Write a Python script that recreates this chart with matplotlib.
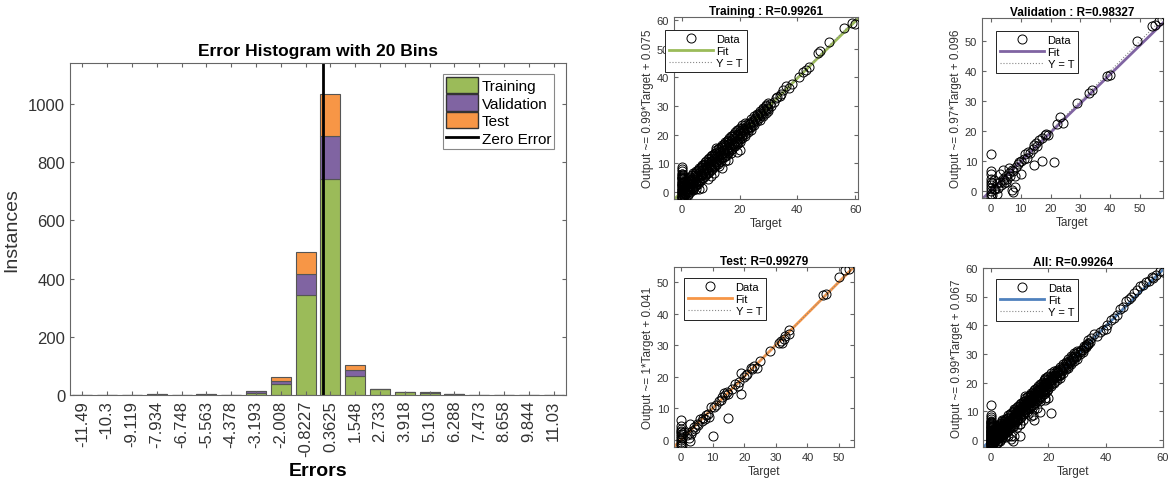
import matplotlib
matplotlib.use('Agg')
import matplotlib.pyplot as plt
import numpy as np
from matplotlib.patches import Patch
from matplotlib.lines import Line2D

plt.rcParams['font.family'] = ['Liberation Sans', 'DejaVu Sans']

# ---- error histogram data ----
bin_labels = ['-11.49', '-10.3', '-9.119', '-7.934', '-6.748', '-5.563', '-4.378',
              '-3.193', '-2.008', '-0.8227', '0.3625', '1.548', '2.733', '3.918',
              '5.103', '6.288', '7.473', '8.658', '9.844', '11.03']
train_counts = [0, 0, 0, 1, 0, 1, 0, 8, 38, 343, 741, 64, 19, 9, 7, 2, 0, 0, 0, 0]
val_counts = [0, 0, 0, 1, 0, 1, 0, 6, 10, 71, 147, 21, 2, 1, 2, 1, 0, 0, 0, 0]
test_counts = [0, 0, 0, 0, 0, 0, 0, 1, 14, 76, 146, 19, 1, 1, 1, 0, 0, 0, 0, 0]

# ---- regression data (target, output) ----
train_target = [0, 0, 0, 0, 0, 0, 0, 0, 0, 0, 0, 0, 0, 0, 0, 0, 0, 0.2, 0.2, 0.2, 0.2, 0.3, 0.3, 0.4, 0.4,
                0.1, 0.1, 0.1, 0.1, 0.1, 0.1, 0.1, 0.1, 0.1, 0.1, 0.6, 0.6, 0.6, 0.6, 0.6, 0.6,
                0.8, 1, 1.2, 1.5, 1.8, 2, 2.2, 2.5, 2.8, 3, 3.2, 3.5, 3.8, 4, 4.2, 4.5, 1, 1.5, 2, 2.5, 3, 3.5, 4, 4.5, 5, 1.2, 2.4, 3.6, 4.8,
                1.4, 2.1, 2.7, 3.3, 3.9, 4.4, 1.7, 2.3, 2.9, 3.4, 0.9, 4.9,
                5, 6, 7, 8, 9, 10, 11, 12, 13, 14, 15, 16, 17, 18, 19, 20, 21, 22, 23, 24, 25, 26, 27, 28, 29, 30,
                5.5, 6.5, 7.5, 8.5, 9.5, 10.5, 11.5, 12.5, 13.5, 14.5, 15.5, 16.5, 17.5, 18.5, 19.5, 20.5, 21.5, 22.5, 23.5, 24.5, 25.5, 26.5, 27.5, 28.5, 29.5,
                5, 6, 7, 8, 9, 10, 11, 12, 13, 14, 15, 16, 17, 18, 19, 20, 21, 22, 23, 24, 25, 26, 27, 28, 29, 30,
                5.5, 6.5, 7.5, 8.5, 9.5, 10.5, 11.5, 12.5, 13.5, 14.5, 15.5, 16.5, 17.5, 18.5, 19.5,
                3.5, 4.5, 5.5, 6.5, 7.5, 8.5, 9.5, 10.5, 11.5, 12.5, 13.5, 14.5, 15.5, 16.5, 17.5, 18.5, 19.5,
                5.2, 6.2, 7.2, 8.2, 9.2, 10.2, 11.2, 12.2, 13.2, 14.2, 15.2, 16.2, 17.2, 18.2, 19.2, 20.2, 21.2, 22.2, 23.2, 24.2, 25.2, 26.2, 27.2, 28.2, 29.2,
                5.7, 6.7, 7.7, 8.7, 9.7, 10.7, 11.7, 12.7, 13.7, 14.7, 15.7, 16.7, 17.7, 18.7, 19.7, 20.7, 21.7, 22.7, 23.7, 24.7, 25.7, 26.7, 27.7, 28.7, 29.7,
                4, 5, 6, 7, 8, 9, 10, 11, 12, 13, 14, 15, 16, 17, 18, 19, 20, 21, 22, 23, 24,
                2, 3, 4, 5, 6, 7, 8, 9, 10, 11, 12, 13, 14, 15, 16, 17, 18, 19, 20, 21, 22,
                6, 7, 9, 10, 11, 12, 13, 14, 16, 17, 20, 19, 15,
                31, 32, 33, 34, 34.5, 35, 36, 37, 38, 40.5, 42, 43, 44, 47, 48, 51, 56, 59, 60, 30.5, 32.5]
train_output = [-2.2, -1.6, -1, -0.4, 0.2, 0.8, 1.4, 2, 2.6, 3.2, 4, 4.8, 5.6, 6.4, 7.2, 8, 8.8, -1.8, 0.5, 2.8, 5, -0.8, 3.6, 1.2, 6,
                -2, -1.2, -0.3, 0.6, 1.6, 2.4, 3.4, 4.4, 5.2, 6.2, -1.2, 0, 1.2, 2.4, 3.6, 4.8,
                -1.5, 0.5, 2.5, -0.5, 1.5, 3.5, -1, 2, 4, 0, 2.8, 4.6, 1, 3.2, 5.2, 2, -0.8, 4.2, 0.2, 5, 1.8, 3, 0.6, 6, 4, -0.2, 1, 1.6, 2.6,
                1.2, 2.8, 2.4, 3.8, 3.1, 4.5, 3.0, -0.5, 0.8, 1.4, 1.6, 1.1,
                6.5, 7.8, 8.6, 9.9, 10.4, 11.8, 12.5, 13.6, 14.3, 15.7, 16.4, 17.5, 18.3, 19.6, 20.2, 21.4, 22.3, 23.5, 24.1, 25.3, 26.4, 27.2, 28.3, 29.4, 30.2, 31.1,
                5.7, 6.3, 7.9, 8.4, 9.6, 10.8, 11.3, 12.7, 13.4, 14.6, 15.5, 16.8, 17.2, 18.6, 19.4, 20.5, 21.7, 22.3, 23.6, 24.4, 25.5, 26.6, 27.3, 28.7, 29.4,
                3.6, 4.2, 5.8, 6.3, 7.4, 8.7, 9.2, 10.5, 11.6, 12.3, 13.5, 14.6, 15.2, 16.6, 17.4, 18.5, 19.6, 20.3, 21.5, 22.6, 23.4, 24.6, 25.2, 26.6, 27.5, 28.4,
                2.8, 4.1, 5.0, 6.2, 6.9, 8.0, 9.1, 9.8, 11.0, 12.1, 12.8, 14.2, 15.0, 15.9, 17.2,
                5.8, 6.6, 7.7, 8.9, 9.6, 10.8, 11.9, 12.8, 13.6, 14.9, 15.8, 16.7, 17.9, 18.8, 19.6, 20.9, 21.8,
                5.9, 7.0, 7.7, 8.9, 9.7, 11.0, 11.7, 12.9, 13.8, 14.7, 16.0, 16.8, 17.7, 18.9, 19.8, 20.7, 21.9, 22.6, 23.8, 24.9, 25.7, 26.9, 27.6, 28.8, 29.9,
                4.8, 5.9, 6.9, 7.9, 9.1, 9.9, 10.8, 12.1, 12.9, 13.8, 14.9, 16.1, 16.8, 17.9, 18.9, 19.9, 21.1, 21.9, 22.8, 23.9, 25.1, 25.8, 26.9, 28.1, 28.9,
                1.8, 2.9, 3.6, 4.9, 5.7, 6.8, 7.6, 8.9, 9.8, 10.6, 11.9, 12.7, 13.6, 14.8, 15.9, 16.7, 17.6, 18.9, 19.7, 20.8, 21.6,
                4.5, 5.3, 6.6, 7.4, 8.5, 9.3, 10.6, 11.4, 12.5, 13.3, 14.6, 15.2, 16.5, 17.4, 18.2, 19.6, 20.3, 21.5, 22.4, 23.5, 24.2,
                1.2, 1.5, 4.5, 5.5, 6.8, 15.2, 9, 8.4, 11.2, 13.5, 14.5, 13.8, 10.8,
                30, 31.5, 33, 33.5, 34.2, 35.4, 36.8, 36.2, 37.8, 40.2, 42, 42.6, 43.6, 48.5, 49.2, 52.3, 57, 58.8, 58.6, 30.8, 32.8]

val_target = [0, 0, 0, 0, 0, 0, 0, 0, 0, 0, 0.5, 0.5, 1, 1,
              1.5, 2, 2.5, 3, 3.5, 4, 4.5, 5, 5.5, 6, 6.5, 7, 7.5, 8, 8.5, 9, 9.5, 10, 3, 4, 5, 6, 4.5, 2,
              7, 7.5, 10, 8, 14.5, 17, 21,
              11, 11.5, 12, 12.5, 13, 14, 14.5, 15, 15.5, 16, 17, 18, 18.5, 19, 22, 23, 24, 29, 33, 34, 39, 40, 49, 54, 55, 56.5, 57.5]
val_output = [-2, -1, 0, 1, 2, 3, 4, 5.5, 6.5, 12.2, -1.5, 2.5, 0.5, 3.5,
              0.5, 2.5, 1, 3, 2, 4, 3.5, 5, 4, 6, 5, 7, 6.5, 1.2, 8, 9, 9.5, 10, 5.5, 6.8, 3, 7.5, 2.5, -1.2,
              0.2, -0.5, 5.5, 5, 8.7, 9.8, 9.5,
              10.5, 12.2, 11, 12.8, 12.5, 13.8, 15.2, 15.8, 14.8, 17, 17.8, 18.5, 19, 18.8, 22.2, 24.5, 22.8, 29.2, 32.5, 33.8, 38.2, 38.8, 50, 55, 55.3, 56.6, 57.5]

test_target = [0, 0, 0, 0, 0, 0, 0, 0, 0, 0, 0, 0, 0.3, 0.3, 0.3,
               1, 2, 3, 3, 3.5, 4, 4.5, 5, 5.5, 6, 6.5, 7, 7.5, 8, 8.5, 9, 9.5, 10, 2.5, 3.2,
               15, 19,
               10.5, 11, 12, 12.5, 13, 13.5, 14, 14.5, 15, 16, 17, 18, 18.5, 19, 20, 20.5, 21, 22, 22.5, 23, 24, 25, 28, 31, 31.5, 32, 32.5, 33, 34, 34, 45, 46, 50, 52, 53]
test_output = [-1.8, -1.2, -0.6, 0, 0.6, 1.2, 1.8, 2.4, 3, 3.6, 4.4, 6.2, -1.5, 0.8, 2,
               2.5, 1.5, 5, -0.4, 3, 4, 3.5, 5.2, 4.8, 6.5, 6, 7, 6.8, 7.8, 8.3, 7.2, 10.5, 1.4, 0.5, 1.8,
               7, 14.5,
               10.5, 11.2, 12.3, 12.8, 13.5, 14.8, 14.2, 15.2, 14.6, 16.2, 17.6, 17.2, 18.4, 21.2, 20, 20.6, 21, 22.8, 22.3, 23.5, 22.8, 25, 28, 30.8, 31.2, 30.6, 32, 32.8, 33.6, 34.8, 45.8, 46.3, 51.4, 53.8, 54.2]

all_target = train_target + val_target + test_target
all_output = train_output + val_output + test_output

GREEN = '#9BBB59'
PURPLE = '#8064A2'
ORANGE = '#F79646'
BLUE = '#4F81BD'
TXT = '#333333'
SPINE = '#666666'


def style_axes(ax, fs):
    for s in ax.spines.values():
        s.set_color(SPINE)
        s.set_linewidth(0.8)
    ax.tick_params(direction='in', top=True, right=True, colors=SPINE,
                   labelcolor=TXT, labelsize=fs, length=3)


fig = plt.figure(figsize=(11.68, 4.81), dpi=100)

# ---- histogram ----
ax = fig.add_axes([70 / 1168, 85 / 481, 496 / 1168, 332 / 481])
x = np.arange(len(bin_labels))
tr = np.array(train_counts)
va = np.array(val_counts)
te = np.array(test_counts)
ax.bar(x, tr, 0.8, color=GREEN, edgecolor='#555555', linewidth=0.8)
ax.bar(x, va, 0.8, bottom=tr, color=PURPLE, edgecolor='#555555', linewidth=0.8)
ax.bar(x, te, 0.8, bottom=tr + va, color=ORANGE, edgecolor='#555555', linewidth=0.8)
centers = np.array([float(v) for v in bin_labels])
step = (centers[-1] - centers[0]) / (len(centers) - 1)
zero_x = (0 - centers[0]) / step
ax.axvline(zero_x, color='black', lw=2)
ax.set_xlim(-0.5, len(bin_labels) - 0.5)
ax.set_ylim(0, 1140)
ax.set_xticks(x)
ax.set_xticklabels(bin_labels, rotation=90)
ax.set_yticks([0, 200, 400, 600, 800, 1000])
style_axes(ax, 12)
ax.set_title('Error Histogram with 20 Bins', fontsize=12.5, fontweight='bold', color='black', pad=6)
ax.set_xlabel('Errors', fontsize=14, fontweight='bold', color='black', labelpad=4)
ax.set_ylabel('Instances', fontsize=14, color=TXT, labelpad=6)
handles = [Patch(facecolor=GREEN, edgecolor='#333333'),
           Patch(facecolor=PURPLE, edgecolor='#333333'),
           Patch(facecolor=ORANGE, edgecolor='#333333'),
           Line2D([], [], color='black', lw=2)]
leg = ax.legend(handles, ['Training', 'Validation', 'Test', 'Zero Error'],
                loc='upper right', bbox_to_anchor=(0.976, 0.968), fontsize=11,
                fancybox=False, edgecolor='#888888', framealpha=1,
                handlelength=2.1, handleheight=1.25, handletextpad=0.2,
                labelspacing=0.1, borderpad=0.2, borderaxespad=0)
leg.get_frame().set_linewidth(0.8)


def reg_plot(rect, target, output, slope, intercept, color, title, ylab,
             xlim, ylim, xticks, yticks, leg_pos):
    ax = fig.add_axes(rect)
    xs = np.array(xlim)
    fit, = ax.plot(xs, slope * xs + intercept, color=color, lw=2, zorder=2)
    yt, = ax.plot(xs, xs, ':', color='#888888', lw=0.8, zorder=2)
    data, = ax.plot(target, output, 'o', mfc='none', mec='black', ms=6.5, mew=0.7, zorder=3)
    ax.set_xlim(xlim)
    ax.set_ylim(ylim)
    ax.set_xticks(xticks)
    ax.set_yticks(yticks)
    style_axes(ax, 8)
    ax.set_title(title, fontsize=8.5, fontweight='bold', color='black', pad=2)
    ax.set_xlabel('Target', fontsize=8.5, color=TXT, labelpad=2)
    ax.set_ylabel(ylab, fontsize=8.5, color=TXT, labelpad=2)
    lg = ax.legend([data, fit, yt], ['Data', 'Fit', 'Y = T'], loc='upper left',
                   bbox_to_anchor=leg_pos, fontsize=8, fancybox=False,
                   edgecolor='#222222', framealpha=1, handlelength=4,
                   handletextpad=0.3, labelspacing=0.2, borderpad=0.35, borderaxespad=0)
    lg.get_frame().set_linewidth(0.7)
    lg.set_zorder(5)
    return ax


reg_plot([674 / 1168, 281 / 481, 184 / 1168, 182 / 481], train_target, train_output,
         0.99, 0.075, GREEN, 'Training : R=0.99261', 'Output ~= 0.99*Target + 0.075',
         (-2.7, 61), (-2.4, 61), [0, 20, 40, 60], [0, 10, 20, 30, 40, 50, 60], (-0.05, 0.93))
reg_plot([982 / 1168, 282 / 481, 181 / 1168, 180 / 481], val_target, val_output,
         0.97, 0.096, PURPLE, 'Validation : R=0.98327', 'Output ~= 0.97*Target + 0.096',
         (-3, 57.7), (-2.4, 57.7), [0, 10, 20, 30, 40, 50], [0, 10, 20, 30, 40, 50], (0.077, 0.928))
reg_plot([674 / 1168, 33 / 481, 180 / 1168, 180 / 481], test_target, test_output,
         1.0, 0.041, ORANGE, 'Test: R=0.99279', 'Output ~= 1*Target + 0.041',
         (-2.2, 54.7), (-2.2, 54.7), [0, 10, 20, 30, 40, 50], [0, 10, 20, 30, 40, 50], (0.055, 0.94))
reg_plot([983 / 1168, 33 / 481, 180 / 1168, 179 / 481], all_target, all_output,
         0.99, 0.067, BLUE, 'All: R=0.99264', 'Output ~= 0.99*Target + 0.067',
         (-2.8, 60), (-2.5, 60), [0, 20, 40, 60], [0, 10, 20, 30, 40, 50, 60], (0.072, 0.94))

fig.savefig('out.png', dpi=100)
